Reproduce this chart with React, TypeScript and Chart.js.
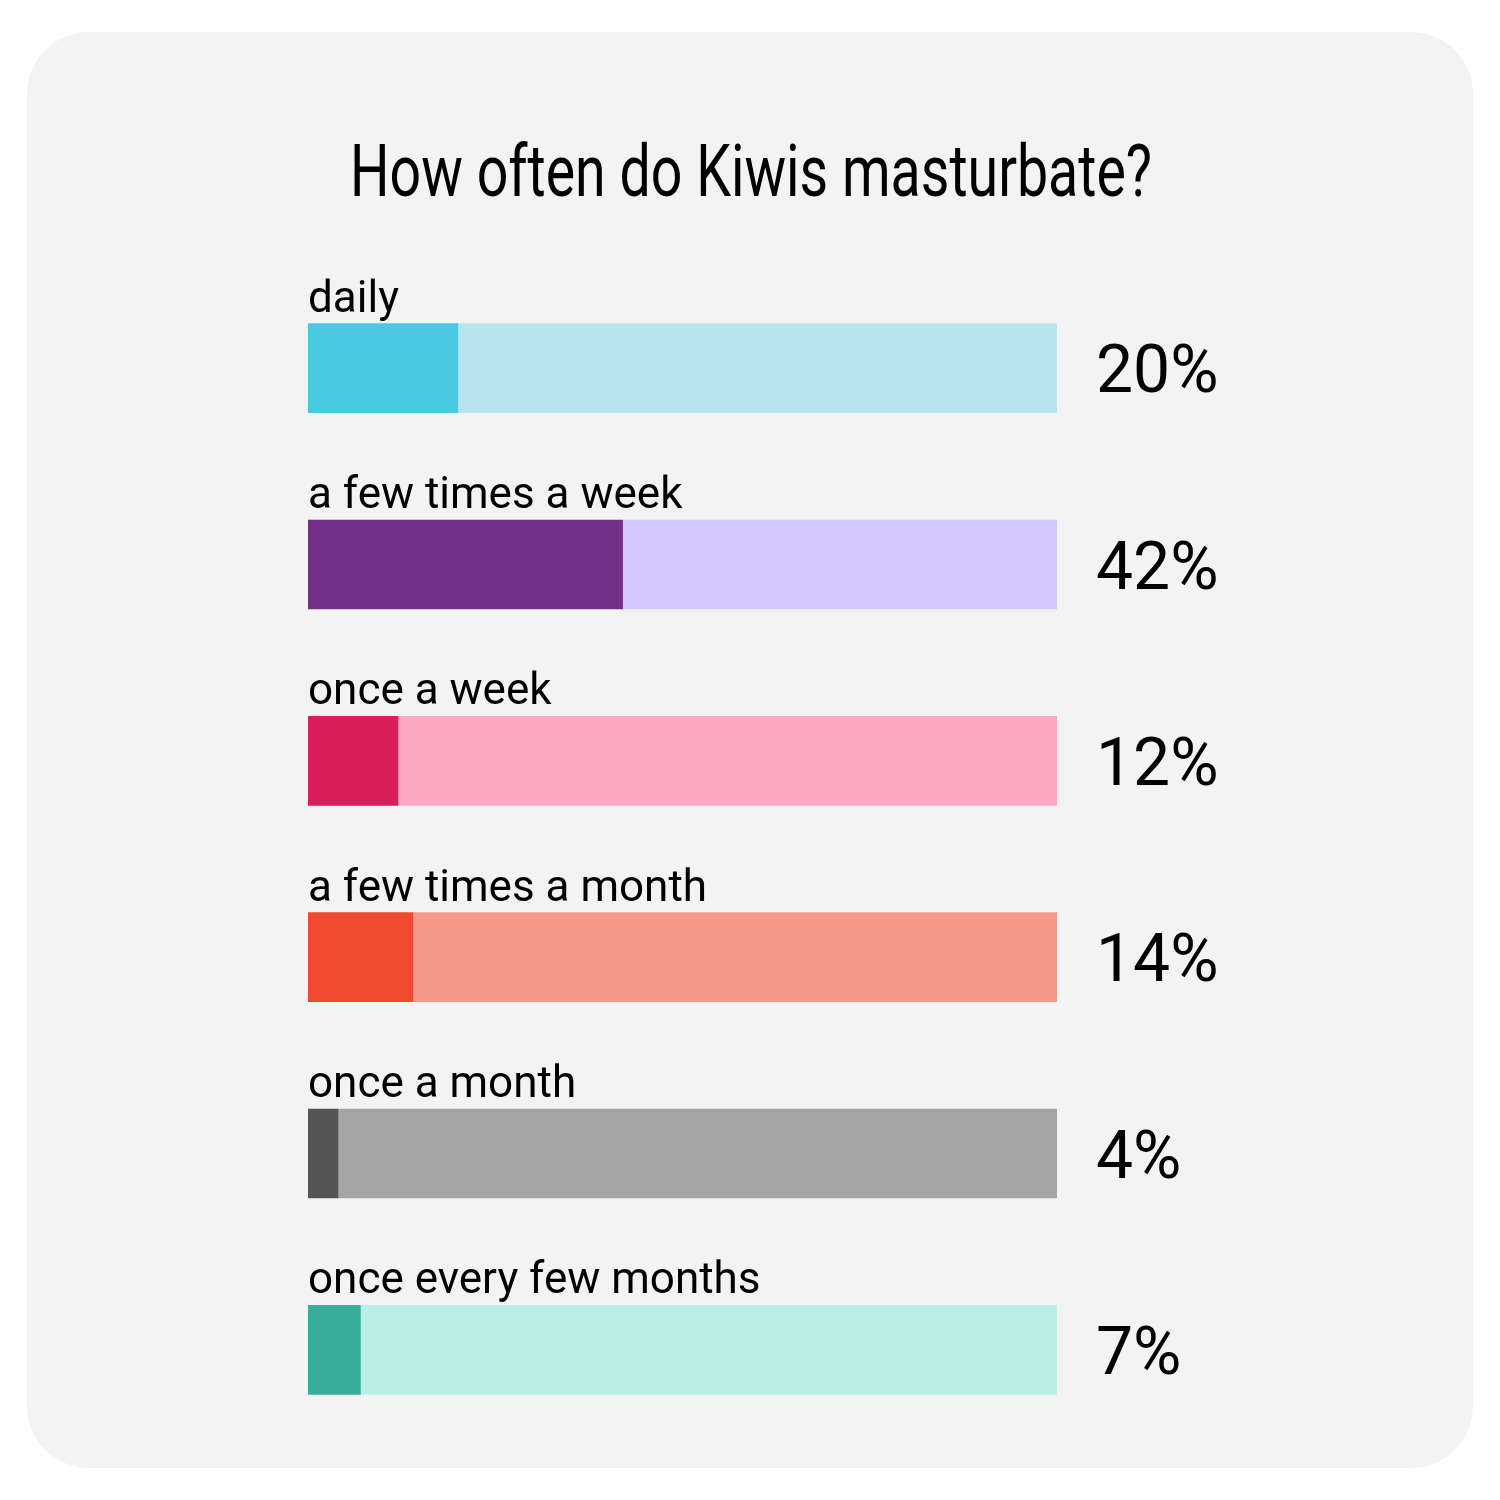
import React, { useEffect, useRef } from "react";
import { Chart, registerables } from "chart.js";

Chart.register(...registerables);

const title = "How often do Kiwis masturbate?";
const categories = [
  "daily",
  "a few times a week",
  "once a week",
  "a few times a month",
  "once a month",
  "once every few months",
];
const values = [20, 42, 12, 14, 4, 7];
const scaleMax = 100;
const darkColors = ["#4ac9e1", "#712f87", "#d91e5b", "#f04b2e", "#545454", "#36ad98"];
const lightColors = ["#b8e4f0", "#d3c7ff", "#ffa8c2", "#f59a89", "#a5a5a5", "#b9f0e6"];

const remainders = values.map((v) => scaleMax - v);

const decorPlugin = {
  id: "decor",
  beforeDraw(chart: any) {
    const ctx = chart.ctx;
    ctx.save();
    ctx.fillStyle = "#ffffff";
    ctx.fillRect(0, 0, chart.width, chart.height);
    ctx.fillStyle = "#f3f3f3";
    ctx.beginPath();
    (ctx as any).roundRect(27, 32, 1446, 1436, 62);
    ctx.fill();
    // title
    ctx.fillStyle = "#000000";
    ctx.font = "400 72px Roboto";
    ctx.textAlign = "center";
    ctx.textBaseline = "alphabetic";
    const w = ctx.measureText(title).width;
    const targetW = 802;
    ctx.translate(751, 196);
    ctx.scale(targetW / w, 1);
    ctx.fillText(title, 0, 0);
    ctx.restore();
  },
  afterDatasetsDraw(chart: any) {
    const ctx = chart.ctx;
    const meta = chart.getDatasetMeta(0);
    const area = chart.chartArea;
    ctx.save();
    ctx.fillStyle = "#000000";
    ctx.textAlign = "left";
    ctx.textBaseline = "alphabetic";
    meta.data.forEach((bar: any, i: number) => {
      const top = bar.y - bar.height / 2;
      ctx.font = "44px Roboto";
      ctx.fillText(categories[i], area.left, top - 12);
      ctx.font = "66px Roboto";
      ctx.fillText(values[i] + "%", area.right + 39, bar.y + 24);
    });
    ctx.restore();
  },
};

export default function App() {
  const ref = useRef<HTMLCanvasElement | null>(null);
  useEffect(() => {
    document.body.style.margin = "0";
    const chart = new Chart(ref.current as HTMLCanvasElement, {
      type: "bar",
      data: {
        labels: categories,
        datasets: [
          {
            data: values,
            backgroundColor: darkColors,
            borderWidth: 0,
            barThickness: 89,
            order: 0,
          },
          {
            data: remainders,
            backgroundColor: lightColors,
            borderWidth: 0,
            barThickness: 89,
            order: 1,
          },
        ],
      },
      options: {
        indexAxis: "y",
        animation: false,
        responsive: false,
        devicePixelRatio: 1,
        layout: { padding: { left: 308, right: 443, top: 270, bottom: 52 } },
        scales: {
          x: { stacked: true, min: 0, max: scaleMax, display: false },
          y: { stacked: true, display: false },
        },
        plugins: {
          legend: { display: false },
          tooltip: { enabled: false },
          title: { display: false },
        },
      },
      plugins: [decorPlugin],
    });
    return () => chart.destroy();
  }, []);
  return (
    <div style={{ position: "absolute", left: 0, top: 0, width: 1500, height: 1500 }}>
      <canvas ref={ref} width={1500} height={1500} style={{ width: 1500, height: 1500 }} />
    </div>
  );
}
